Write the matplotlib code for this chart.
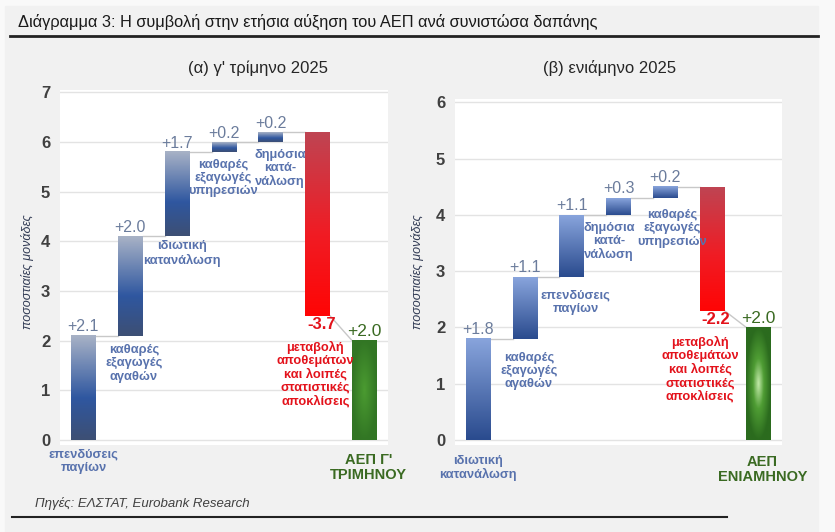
import numpy as np
import matplotlib
matplotlib.use("Agg")
import matplotlib.pyplot as plt
from matplotlib.colors import LinearSegmentedColormap
from matplotlib.patches import Rectangle
from matplotlib.lines import Line2D

plt.rcParams['font.family'] = ['Liberation Sans', 'DejaVu Sans']

# data
title = "Διάγραμμα 3: Η συμβολή στην ετήσια αύξηση του ΑΕΠ ανά συνιστώσα δαπάνης"
source = "Πηγές: ΕΛΣΤΑΤ, Eurobank Research"
ylabel = "ποσοστιαίες μονάδες"

left_title = "(α) γ' τρίμηνο 2025"
left_cats = ["επενδύσεις\nπαγίων", "καθαρές\nεξαγωγές\nαγαθών", "ιδιωτική\nκατανάλωση",
             "καθαρές\nεξαγωγές\nυπηρεσιών", "δημόσια\nκατά-\nνάλωση",
             "μεταβολή\nαποθεμάτων\nκαι λοιπές\nστατιστικές\nαποκλίσεις", "ΑΕΠ Γ'\nΤΡΙΜΗΝΟΥ"]
left_vals = [2.1, 2.0, 1.7, 0.2, 0.2, -3.7, 2.0]

right_title = "(β) ενιάμηνο 2025"
right_cats = ["ιδιωτική\nκατανάλωση", "καθαρές\nεξαγωγές\nαγαθών", "επενδύσεις\nπαγίων",
              "δημόσια\nκατά-\nνάλωση", "καθαρές\nεξαγωγές\nυπηρεσιών",
              "μεταβολή\nαποθεμάτων\nκαι λοιπές\nστατιστικές\nαποκλίσεις", "ΑΕΠ\nΕΝΙΑΜΗΝΟΥ"]
right_vals = [1.8, 1.1, 1.1, 0.3, 0.2, -2.2, 2.0]

# layout of category labels (dx, y of text top relative to bar bottom)
left_lab = [(0.0, -0.17), (0.08, -0.17), (0.1, -0.08), (-0.02, -0.13), (0.2, -0.13)]
right_lab = [(0.0, -0.27), (0.08, -0.23), (0.08, -0.23), (-0.2, -0.12), (0.14, -0.2)]

W = 0.53
PX = 835.0
PY = 532.0

blue_left = LinearSegmentedColormap.from_list("bl", [(0, "#a8b2c6"), (0.6, "#2f57a0"), (1, "#3d4f74")])
blue_right = LinearSegmentedColormap.from_list("br", [(0, "#88a4dc"), (1, "#2a4b8e")])
red_cm = LinearSegmentedColormap.from_list("rd", [(0, "#bf4452"), (0.55, "#f01c24"), (1, "#ff0505")])
green_left = LinearSegmentedColormap.from_list("gl", [(0, "#4b9b31"), (1, "#327624")])
green_right = LinearSegmentedColormap.from_list("gr", [(0, "#c3eaaa"), (0.45, "#4f9d34"), (1, "#2b6b1e")])

CAT_C = "#5872ad"
VAL_C = "#6b7c9c"
RED_C = "#e3121b"
GRN_C = "#3a6a22"
FS_CAT = 9.3
LS = 1.13


def grad_bar(ax, x, y0, y1, cmap, radial=False):
    lo, hi = min(y0, y1), max(y0, y1)
    if radial:
        yy, xx = np.mgrid[-1:1:120j, -1:1:40j]
        img = np.clip(np.sqrt(xx ** 2 + yy ** 2), 0, 1)
    else:
        img = np.repeat(np.linspace(0, 1, 120)[:, None], 10, axis=1)
    ax.imshow(img, cmap=cmap, vmin=0, vmax=1, extent=(x - W / 2, x + W / 2, lo, hi),
              aspect='auto', origin='upper', zorder=3, interpolation='bilinear')


def panel(ax, cats, vals, labs, blue, green, ymax):
    ax.set_facecolor("white")
    for s in ax.spines.values():
        s.set_visible(False)
    ax.set_yticks(range(0, ymax + 1))
    ax.tick_params(length=0, labelsize=12, labelcolor="#404040", pad=7)
    for t in ax.get_yticklabels():
        t.set_fontweight("bold")
    ax.set_xticks([])
    ax.grid(axis="y", color="#e3e3e3", lw=1, zorder=0)
    ax.set_axisbelow(True)

    base = 0.0
    for i in range(5):
        b, t = base, base + vals[i]
        grad_bar(ax, i, b, t, blue)
        ax.text(i, t + 0.03, "%+.1f" % vals[i], ha="center", va="bottom", fontsize=11.5, color=VAL_C)
        dx, dy = labs[i]
        ax.text(i + dx, b + dy, cats[i], ha="center", va="top", fontsize=FS_CAT, fontweight="bold",
                color=CAT_C, linespacing=LS, zorder=4)
        if i > 0:
            ax.plot([i - 1 + W / 2, i - W / 2], [b, b], color="#c8c8c8", lw=1, zorder=2)
        base = t
    # red bar
    r_top, r_bot = base, base + vals[5]
    grad_bar(ax, 5, r_top, r_bot, red_cm)
    ax.plot([4 + W / 2, 5 - W / 2], [r_top, r_top], color="#c8c8c8", lw=1, zorder=2)
    ax.text(5.08, r_bot - 0.02, "%.1f" % vals[5], ha="center", va="top", fontsize=12,
            color=RED_C, fontweight="bold", zorder=4)
    # green bar
    grad_bar(ax, 6, 0, vals[6], green, radial=True)
    ax.plot([5 + W / 2, 6 - W / 2], [r_bot, vals[6]], color="#c8c8c8", lw=1, zorder=2)
    ax.text(6, vals[6] + 0.03, "%+.1f" % vals[6], ha="center", va="bottom", fontsize=12.5,
            color=GRN_C, zorder=4)
    ax.text(6.08, -0.27, cats[6], ha="center", va="top", fontsize=10.5, fontweight="bold",
            color=GRN_C, linespacing=1.08)
    return r_bot


fig = plt.figure(figsize=(PX / 100, PY / 100), dpi=100, facecolor="#f9f9f9")
fig.patches.append(Rectangle((5 / PX, 0), 813 / PX, 526 / PY, transform=fig.transFigure,
                             color="#f1f1f1", zorder=-5))
fig.text(18 / PX, 1 - 22 / PY, title, fontsize=11.8, va="center", ha="left", color="#1a1a1a")
fig.add_artist(Line2D([10 / PX, 818 / PX], [1 - 36 / PY] * 2, color="#222222", lw=2))

# left panel: 0 at y=440, 7 at y=93
ax1 = fig.add_axes([60 / PX, 87 / PY, 328 / PX, 355 / PY])
rb = panel(ax1, left_cats, left_vals, left_lab, blue_left, green_left, 7)
ax1.text(4.95, rb - 0.5, left_cats[5], ha="center", va="top", fontsize=FS_CAT, fontweight="bold",
         color=RED_C, linespacing=LS, zorder=4)
ax1.set_xlim(-0.5, 6.5)
ax1.set_ylim(-0.1, 7.05)
fig.text(258 / PX, 1 - 68 / PY, left_title, ha="center", va="center", fontsize=12, color="#262626")
fig.text(28 / PX, 1 - 272 / PY, ylabel, rotation=90, ha="center", va="center", fontsize=9,
         style="italic", color="#323c55")

# right panel: 0 at y=440, 6 at y=103
ax2 = fig.add_axes([455 / PX, 87 / PY, 327 / PX, 346 / PY])
rb = panel(ax2, right_cats, right_vals, right_lab, blue_right, green_right, 6)
ax2.text(4.75, rb - 0.45, right_cats[5], ha="center", va="top", fontsize=FS_CAT, fontweight="bold",
         color=RED_C, linespacing=LS, zorder=4)
ax2.set_xlim(-0.5, 6.5)
ax2.set_ylim(-0.09, 6.06)
fig.text(610 / PX, 1 - 68 / PY, right_title, ha="center", va="center", fontsize=12, color="#262626")
fig.text(418 / PX, 1 - 272 / PY, ylabel, rotation=90, ha="center", va="center", fontsize=9,
         style="italic", color="#323c55")

fig.text(35 / PX, 1 - 503 / PY, source, ha="left", va="center", fontsize=9.5, style="italic",
         color="#404040")
fig.add_artist(Line2D([12 / PX, 727 / PX], [1 - 517 / PY] * 2, color="#222222", lw=1.5))

fig.savefig("out.png", dpi=100, facecolor=fig.get_facecolor())
